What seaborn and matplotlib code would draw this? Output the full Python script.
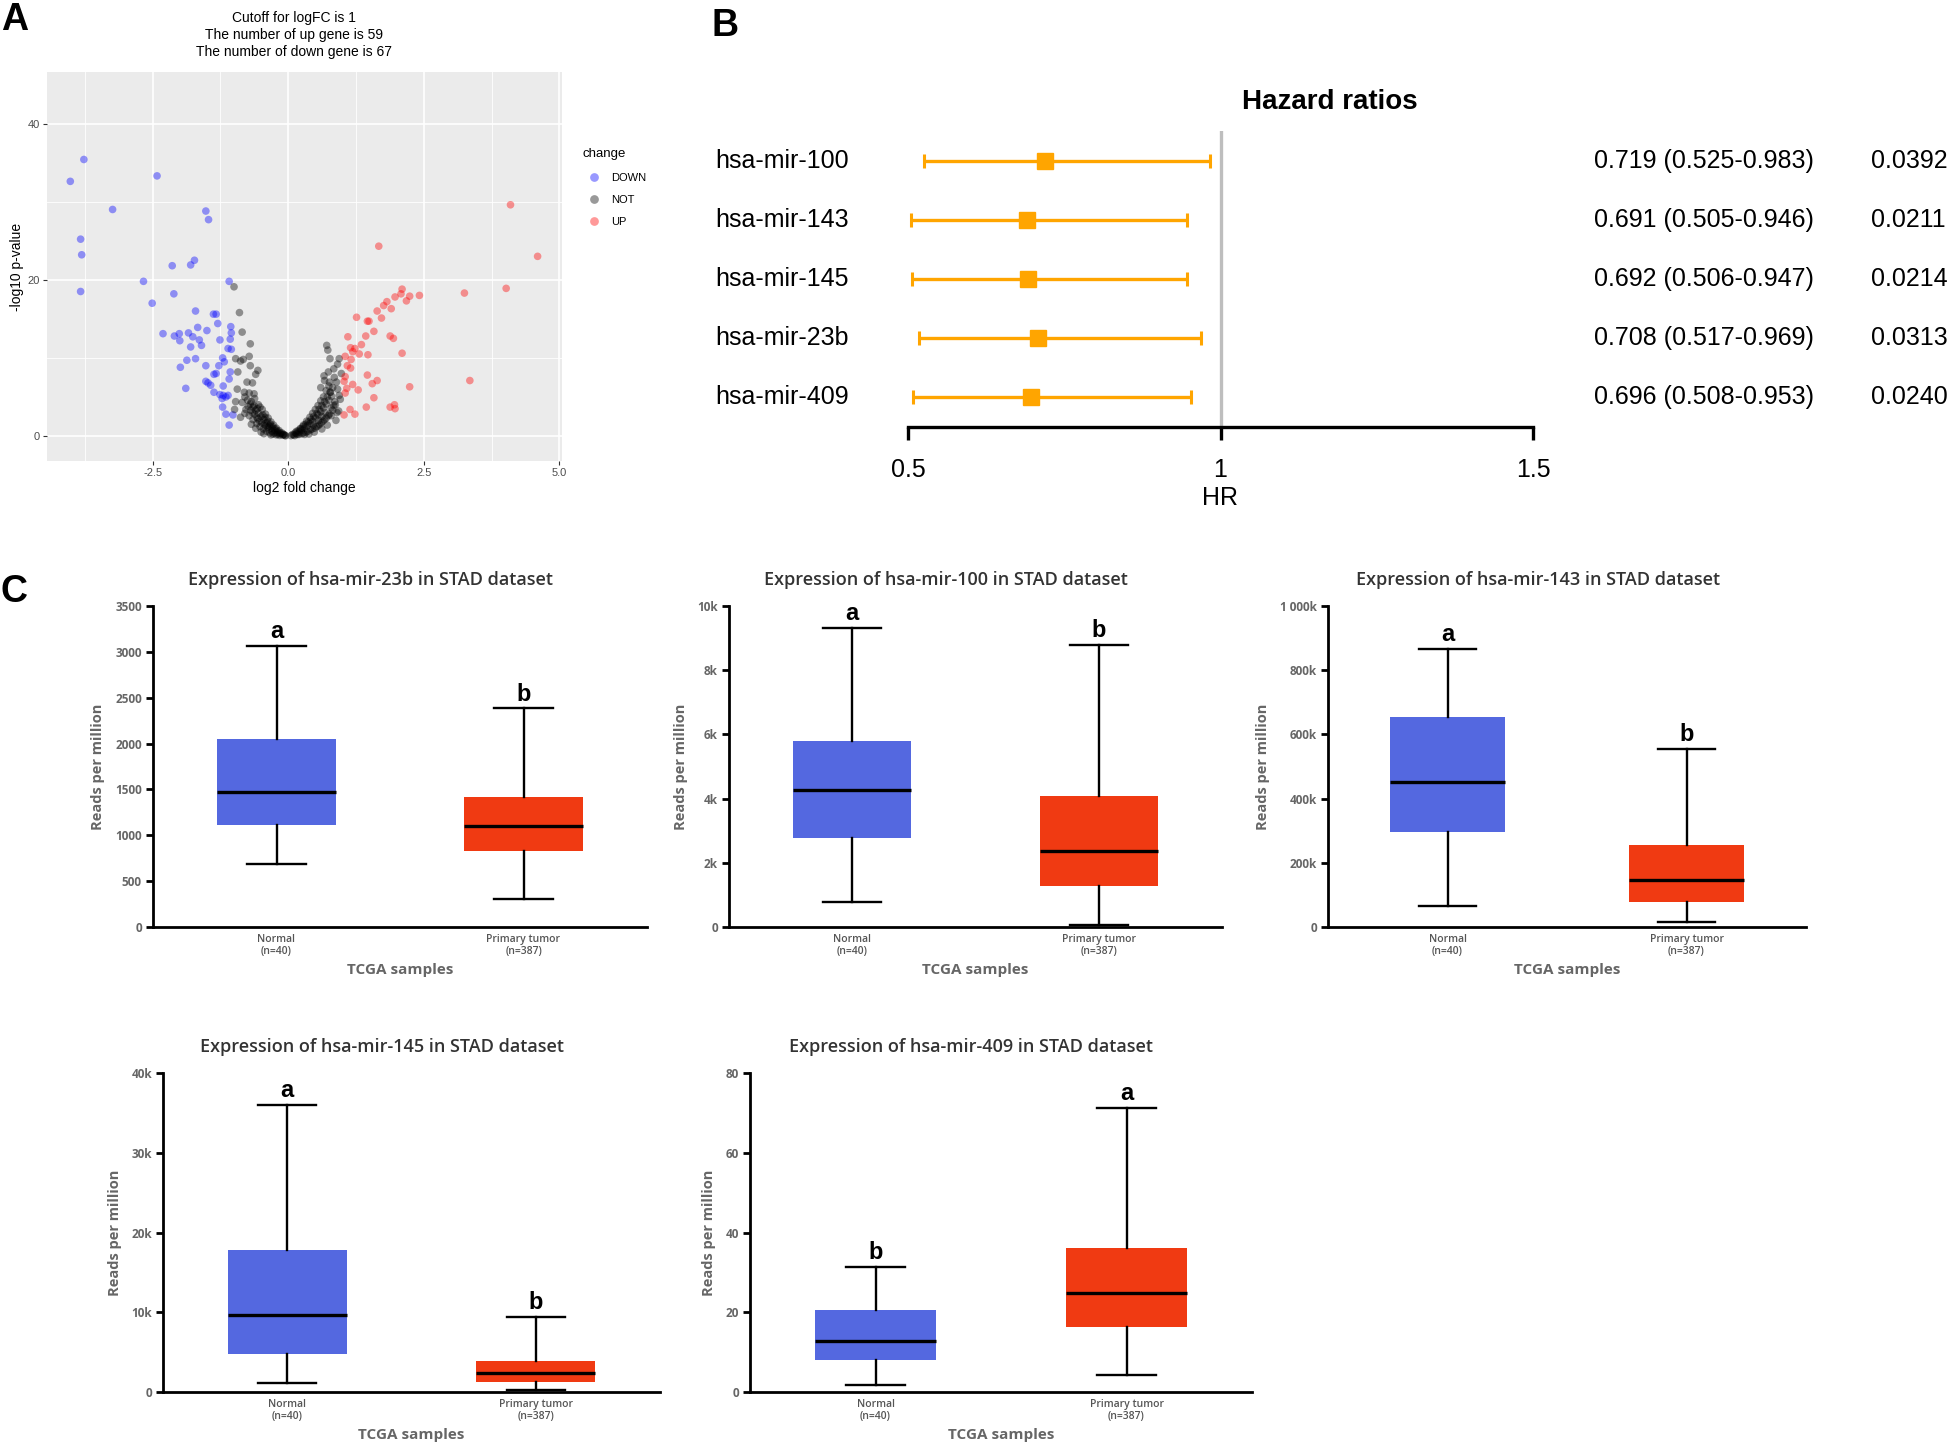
import numpy as np
import pandas as pd
import seaborn as sns
import matplotlib.pyplot as plt

W, H = 1952, 1444

plt.rcParams['font.family'] = ['Liberation Sans', 'DejaVu Sans']


def box(l, t, r, b):
    # pixel box -> figure fraction
    return [l / W, 1 - b / H, (r - l) / W, (b - t) / H]


# ---------------- panel A : volcano plot ----------------
down_x = [-4.02, -3.77, -3.24, -3.83, -3.81, -3.83, -2.42, -1.52, -1.47, -2.14, -1.80, -1.73,
          -2.67, -2.11, -2.51, -1.09, -1.71, -1.38, -1.33, -2.31, -2.10, -2.01, -1.84, -1.67,
          -1.50, -1.30, -1.06, -1.05, -1.76, -2.00, -1.64, -1.60, -1.26, -1.07, -1.80, -1.11,
          -1.05, -1.21, -1.71, -1.87, -1.18, -1.52, -1.28, -1.99, -1.37, -1.33, -1.07, -1.52,
          -1.48, -1.43, -1.89, -1.09, -1.20, -1.37, -1.26, -1.20, -1.15, -1.11, -1.21, -1.15,
          -1.02, -1.09, -1.22]
down_y = [32.6, 35.4, 29.0, 25.2, 23.2, 18.5, 33.3, 28.8, 27.7, 21.8, 21.9, 22.5,
          19.8, 18.2, 17.0, 19.8, 16.0, 15.6, 15.6, 13.1, 12.8, 13.1, 13.2, 13.9,
          13.5, 14.4, 14.0, 13.2, 12.7, 12.2, 12.3, 11.6, 12.3, 12.4, 11.4, 11.2,
          11.1, 10.0, 9.9, 9.7, 9.5, 9.0, 9.0, 8.8, 7.9, 8.0, 8.2, 7.0,
          6.8, 6.5, 6.1, 7.3, 6.4, 5.6, 5.3, 5.2, 5.0, 5.2, 3.7, 2.8,
          2.7, 1.4, 4.8]

up_x = [4.10, 1.67, 4.60, 4.02, 3.25, 2.10, 1.97, 2.08, 2.24, 2.42, 2.18, 1.82, 1.76,
        1.90, 1.64, 1.72, 1.26, 1.46, 1.49, 1.58, 1.43, 1.10, 1.88, 1.94, 1.35, 1.15,
        1.23, 1.19, 1.31, 1.47, 2.10, 1.05, 1.16, 1.09, 1.15, 1.46, 3.35, 1.64, 1.55,
        1.05, 1.03, 1.19, 2.24, 1.08, 1.29, 1.58, 1.44, 1.88, 1.96, 1.97, 1.14, 1.03,
        1.23, 1.05]
up_y = [29.6, 24.3, 23.0, 18.9, 18.3, 18.8, 17.8, 18.2, 17.9, 18.0, 17.3, 17.2, 16.7,
        16.3, 16.0, 15.1, 15.2, 14.7, 14.7, 13.4, 12.8, 12.7, 12.8, 12.5, 11.7, 11.3,
        11.2, 10.8, 10.5, 10.4, 10.6, 10.2, 9.8, 9.0, 8.7, 7.8, 7.1, 7.1, 6.7,
        7.6, 7.0, 6.6, 6.3, 6.1, 5.9, 4.9, 3.7, 3.7, 4.0, 3.5, 3.4, 2.7,
        2.8, 5.5]

not_x = [-1.00, -0.90, -0.85, -0.70, -0.97, -0.72, -0.83, -0.70, -0.56, -0.93, -0.76, -0.66,
         -0.94, -0.81, -0.63, -0.97, -0.99, -0.80, -0.60, -0.88,
         0.71, 0.73, 0.94, 0.77, 0.91, 0.84, 0.74, 0.66, 0.67, 0.76, 0.89, 0.91,
         0.60, 0.77, 0.94, 0.84, 0.79, 0.93, 0.98, 0.96,
         -0.75, -0.70, -0.65, -0.60, -0.55, -0.50, -0.45, -0.40, -0.35, -0.30, -0.25, -0.20,
         -0.15, -0.10, -0.05, -0.72, -0.65, -0.58, -0.52, -0.46, -0.40, -0.34, -0.28, -0.22,
         -0.16, -0.62, -0.55, -0.48, -0.42, -0.37, -0.32, -0.27, -0.22, -0.17, -0.12, -0.08,
         -0.85, -0.78, -0.68, -0.60, -0.50, -0.44, -0.38, -0.53, -0.58, -0.66, -0.88, -0.72,
         -0.52, -0.45, -0.32,
         -0.68, -0.63, -0.57, -0.47, -0.43, -0.38, -0.33, -0.29, -0.24, -0.19, -0.14, -0.09,
         -0.06, -0.74, -0.69, -0.62, -0.56, -0.49, -0.42, -0.36, -0.30, -0.26, -0.20, -0.80,
         0.05, 0.10, 0.15, 0.20, 0.25, 0.30, 0.35, 0.40, 0.45, 0.50, 0.55, 0.60, 0.65, 0.70,
         0.75, 0.12, 0.20, 0.28, 0.36, 0.44, 0.52, 0.58, 0.64, 0.70, 0.76, 0.82, 0.15, 0.22,
         0.28, 0.34, 0.40, 0.45, 0.50, 0.55, 0.60, 0.65, 0.70, 0.75, 0.86, 0.80, 0.88, 0.72,
         0.62, 0.48, 0.38, 0.56, 0.68, 0.46, 0.85, 0.62, 0.90, 0.30,
         0.08, 0.13, 0.18, 0.23, 0.27, 0.32, 0.37, 0.42, 0.47, 0.53, 0.57, 0.62, 0.67, 0.72,
         0.78, 0.82, 0.17, 0.25, 0.33, 0.41, 0.49, 0.55, 0.61, 0.67, 0.74, 0.79, 0.87]
not_y = [19.1, 15.8, 13.3, 11.8, 9.9, 10.2, 9.8, 9.0, 8.4, 8.2, 6.9, 6.8,
         6.0, 5.6, 5.4, 4.4, 3.4, 2.9, 7.9, 9.6,
         11.6, 11.0, 9.9, 9.9, 9.2, 8.6, 8.2, 7.7, 7.1, 6.9, 6.9, 6.0,
         6.2, 5.6, 5.2, 3.9, 2.6, 3.2, 8.0, 4.7,
         4.6, 4.1, 3.7, 3.3, 2.9, 2.5, 2.1, 1.7, 1.3, 1.0, 0.7, 0.45,
         0.25, 0.12, 0.03, 2.6, 2.1, 1.6, 1.2, 0.9, 0.6, 0.4, 0.25, 0.15,
         0.08, 4.8, 4.0, 3.4, 2.8, 2.3, 1.8, 1.4, 1.0, 0.7, 0.4, 0.2,
         4.3, 3.4, 1.5, 1.0, 0.5, 1.5, 1.1, 1.9, 2.4, 3.0, 2.4, 5.5,
         3.7, 0.3, 0.15,
         4.4, 3.9, 3.5, 2.7, 2.4, 1.9, 1.5, 1.2, 0.9, 0.6, 0.35, 0.2,
         0.08, 3.8, 3.3, 2.8, 2.2, 1.7, 1.3, 0.9, 0.6, 0.4, 0.25, 5.0,
         0.05, 0.15, 0.3, 0.5, 0.75, 1.0, 1.3, 1.6, 1.9, 2.3, 2.7, 3.1, 3.6, 4.1,
         4.6, 0.05, 0.2, 0.4, 0.6, 0.9, 1.2, 1.5, 1.9, 2.3, 2.8, 3.3, 0.6, 0.95,
         1.4, 1.9, 2.4, 2.9, 3.4, 3.9, 4.5, 5.0, 5.8, 6.4, 4.4, 5.1, 2.0, 1.4,
         0.9, 0.5, 0.25, 2.0, 3.0, 1.4, 7.5, 2.5, 3.0, 0.2,
         0.2, 0.4, 0.65, 0.9, 1.2, 1.5, 1.8, 2.1, 2.5, 2.9, 3.4, 3.9, 4.4, 5.0,
         5.6, 6.2, 0.2, 0.3, 0.5, 0.8, 1.0, 1.3, 1.7, 2.1, 2.6, 3.6, 4.0]

volcano = pd.DataFrame({
    'logFC': down_x + not_x + up_x,
    'logP': down_y + not_y + up_y,
    'change': ['DOWN'] * len(down_x) + ['NOT'] * len(not_x) + ['UP'] * len(up_x),
})

# ---------------- panel B : hazard ratios ----------------
genes = ['hsa-mir-100', 'hsa-mir-143', 'hsa-mir-145', 'hsa-mir-23b', 'hsa-mir-409']
hr = np.array([0.719, 0.691, 0.692, 0.708, 0.696])
hr_lo = np.array([0.525, 0.505, 0.506, 0.517, 0.508])
hr_hi = np.array([0.983, 0.946, 0.947, 0.969, 0.953])
pvals = ['0.0392', '0.0211', '0.0214', '0.0313', '0.0240']

# ---------------- panel C : TCGA box plots ----------------
groups = ['Normal\n(n=40)', 'Primary tumor\n(n=387)']
# [lower whisker, Q1, median, Q3, upper whisker]
box_mirs = ['hsa-mir-23b', 'hsa-mir-100', 'hsa-mir-143', 'hsa-mir-145', 'hsa-mir-409']
box_normal = [[682, 1113, 1474, 2045, 3066],
              [770, 2780, 4260, 5780, 9330],
              [65000, 297000, 452000, 654000, 866000],
              [1130, 4800, 9600, 17800, 36000],
              [1.8, 8.1, 12.9, 20.5, 31.4]]
box_tumor = [[306, 825, 1105, 1415, 2384],
             [50, 1290, 2370, 4070, 8790],
             [17000, 78000, 145000, 256000, 554000],
             [250, 1260, 2350, 3940, 9400],
             [4.2, 16.4, 24.8, 36.1, 71.2]]
box_ymax = [3500, 10000, 1000000, 40000, 80]
box_ticks = [[0, 500, 1000, 1500, 2000, 2500, 3000, 3500],
             [0, 2000, 4000, 6000, 8000, 10000],
             [0, 200000, 400000, 600000, 800000, 1000000],
             [0, 10000, 20000, 30000, 40000],
             [0, 20, 40, 60, 80]]
box_ticklabels = [['0', '500', '1000', '1500', '2000', '2500', '3000', '3500'],
                  ['0', '2k', '4k', '6k', '8k', '10k'],
                  ['0', '200k', '400k', '600k', '800k', '1 000k'],
                  ['0', '10k', '20k', '30k', '40k'],
                  ['0', '20', '40', '60', '80']]
box_letters = [['a', 'b'], ['a', 'b'], ['a', 'b'], ['a', 'b'], ['b', 'a']]
box_colors = ['#5468E0', '#F03A12']

fig = plt.figure(figsize=(W / 100, H / 100), dpi=100)

# ---- A ----
ax = fig.add_axes(box(47, 72, 562, 461))
ax.set_facecolor('#EBEBEB')
sns.scatterplot(data=volcano, x='logFC', y='logP', hue='change',
                hue_order=['DOWN', 'NOT', 'UP'], palette=['blue', 'black', 'red'],
                alpha=0.4, s=30, linewidth=0, ax=ax)
ax.set_xlim(-4.45, 5.05)
ax.set_ylim(-3.2, 46.6)
ax.set_xticks([-2.5, 0, 2.5, 5.0])
ax.set_xticklabels(['-2.5', '0.0', '2.5', '5.0'])
ax.set_xticks([-3.75, -1.25, 1.25, 3.75], minor=True)
ax.set_yticks([0, 20, 40])
ax.set_yticks([10, 30], minor=True)
ax.grid(which='major', color='white', lw=1.2)
ax.grid(which='minor', color='white', lw=0.6)
ax.set_axisbelow(True)
for s in ax.spines.values():
    s.set_visible(False)
ax.tick_params(which='major', length=3, width=0.8, color='#333333',
               labelcolor='#4D4D4D', labelsize=8, pad=2)
ax.tick_params(which='minor', length=0)
ax.set_xlabel('log2 fold change', fontsize=10, labelpad=2)
ax.set_ylabel('-log10 p-value', fontsize=10, labelpad=3)
sns.move_legend(ax, 'upper left', bbox_to_anchor=(578 / W, 1 - 144 / H),
                bbox_transform=fig.transFigure, frameon=False, title='change',
                fontsize=8, title_fontsize=9.5, handletextpad=0.6, labelspacing=1.1,
                borderaxespad=0, markerscale=1.15)
ax.get_legend()._legend_box.align = 'left'
fig.text(294 / W, 1 - 35 / H,
         'Cutoff for logFC is 1\nThe number of up gene is 59\nThe number of down gene is 67',
         ha='center', va='center', fontsize=10, linespacing=1.3)

# ---- B ----
axb = fig.add_axes(box(908, 131, 1533, 427))
ypos = np.arange(len(genes))[::-1] + 1
axb.axvline(1, color='#BEBEBE', lw=2.4, zorder=0)
axb.errorbar(hr, ypos, xerr=[hr - hr_lo, hr_hi - hr], fmt='s', color='#FFA500',
             ms=11, lw=2.4, capsize=5, capthick=2.2)
axb.set_xlim(0.5, 1.5)
axb.set_ylim(0.5, 5.5)
for k in ['top', 'right', 'left']:
    axb.spines[k].set_visible(False)
axb.spines['bottom'].set_linewidth(2.4)
axb.set_yticks([])
axb.set_xticks([0.5, 1, 1.5])
axb.set_xticklabels(['0.5', '1', '1.5'])
axb.tick_params(axis='x', length=9, width=2.4, pad=13, labelsize=18)
axb.set_xlabel('HR', fontsize=18, labelpad=3)
for g, y, h, lo, hi, p in zip(genes, ypos, hr, hr_lo, hr_hi, pvals):
    axb.text(0.191, y, g, ha='left', va='center', fontsize=18)
    axb.text(1.598, y, f'{h:.3f} ({lo:.3f}-{hi:.3f})', ha='left', va='center', fontsize=18)
    axb.text(2.041, y, p, ha='left', va='center', fontsize=18)
fig.text(1330 / W, 1 - 102 / H, 'Hazard ratios', ha='center', va='center',
         fontsize=20, fontweight='bold')

# ---- C ----
box_px = [(153, 606, 647, 927), (729, 606, 1222, 927), (1328, 606, 1806, 927),
          (163, 1073, 660, 1392), (750, 1073, 1252, 1392)]
ufont = ['Open Sans', 'DejaVu Sans']
grey = '#666666'
for i, mir in enumerate(box_mirs):
    axc = fig.add_axes(box(*box_px[i]))
    stats = []
    for vals in [box_normal[i], box_tumor[i]]:
        stats.append(dict(whislo=vals[0], q1=vals[1], med=vals[2], q3=vals[3],
                          whishi=vals[4], fliers=[]))
    bp = axc.bxp(stats, positions=[0, 1], widths=0.48, capwidths=0.235,
                 patch_artist=True, showfliers=False,
                 medianprops=dict(color='black', lw=2.4),
                 whiskerprops=dict(color='black', lw=1.7),
                 capprops=dict(color='black', lw=1.7),
                 boxprops=dict(lw=0))
    for patch, c in zip(bp['boxes'], box_colors):
        patch.set_facecolor(c)
        patch.set_edgecolor(c)
    axc.set_xlim(-0.5, 1.5)
    axc.set_ylim(0, box_ymax[i])
    for k in ['top', 'right']:
        axc.spines[k].set_visible(False)
    for k in ['left', 'bottom']:
        axc.spines[k].set_linewidth(2)
    axc.set_yticks(box_ticks[i])
    axc.set_yticklabels(box_ticklabels[i], family=ufont, fontweight='bold',
                        color=grey, fontsize=8.5)
    axc.set_xticks([0, 1])
    axc.set_xticklabels(groups, family=ufont, color='#555555', fontsize=7.5,
                        fontweight='semibold', linespacing=1.15)
    axc.tick_params(axis='y', length=5, width=2, pad=3)
    axc.tick_params(axis='x', length=0, pad=5)
    axc.set_ylabel('Reads per million', family=ufont, fontweight='bold', color=grey,
                   fontsize=10.5, labelpad=7)
    axc.set_xlabel('TCGA samples', family=ufont, fontweight='bold', color=grey,
                   fontsize=11, labelpad=4)
    for pos, vals, let in zip([0, 1], [box_normal[i], box_tumor[i]], box_letters[i]):
        axc.annotate(let, xy=(pos, vals[4]), xytext=(0, 2), textcoords='offset points',
                     ha='center', va='bottom', fontsize=17, fontweight='bold')
    axc.annotate(f'Expression of {mir} in STAD dataset', xy=(0.44, 1),
                 xycoords='axes fraction', xytext=(0, 19), textcoords='offset points',
                 ha='center', va='center', family=ufont, fontweight='semibold',
                 color='#333333', fontsize=13)

# panel letters
fig.text(1 / W, 1 - 2 / H, 'A', fontsize=27, fontweight='heavy', va='top', ha='left')
fig.text(711 / W, 1 - 8 / H, 'B', fontsize=27, fontweight='heavy', va='top', ha='left')
fig.text(0 / W, 1 - 574 / H, 'C', fontsize=27, fontweight='heavy', va='top', ha='left')

fig.savefig('out.png', dpi=100)
